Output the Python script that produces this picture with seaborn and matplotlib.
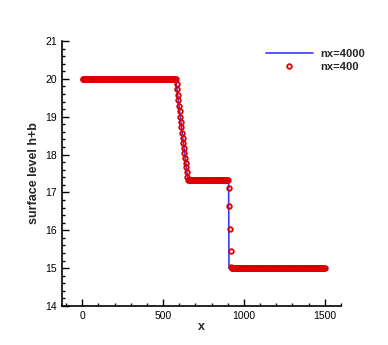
import numpy as np
import pandas as pd
import matplotlib
matplotlib.use("Agg")
import matplotlib.pyplot as plt
import seaborn as sns
from matplotlib.ticker import MultipleLocator

sns.set_style("ticks")
plt.rcParams['font.family'] = ['Liberation Sans', 'DejaVu Sans']

# reference solution nx=4000 (vertices of the profile)
x_fine = [0, 578, 590, 600, 610, 620, 630, 640, 654, 905, 907.5, 1500]
h_fine = [20.0, 20.0, 19.58, 19.22, 18.86, 18.50, 18.15, 17.80, 17.33, 17.33, 15.0, 15.0]

# coarse solution nx=400 (cell centres on [0, 1500])
nx = 400
x_coarse = (np.arange(nx) + 0.5) * 1500.0 / nx
h_rare = [19.87, 19.72, 19.57, 19.43, 19.28, 19.14, 19.00, 18.86, 18.72, 18.58,
          18.45, 18.31, 18.18, 18.05, 17.92, 17.79, 17.66, 17.53, 17.41]
h_shock = [17.12, 16.65, 16.04, 15.46, 15.04]
h_coarse = [20.0] * 155 + h_rare + [17.33] * 67 + h_shock + [15.0] * 154

fine = pd.DataFrame({"x": x_fine, "h": h_fine})
coarse = pd.DataFrame({"x": x_coarse, "h": h_coarse})

fig = plt.figure(figsize=(3.88, 3.45), dpi=100)
ax = fig.add_axes([62/388, 1 - 306/345, (341 - 62)/388, (306 - 41)/345])

sns.lineplot(data=fine, x="x", y="h", ax=ax, color="#3a3aff", lw=1.2,
             label="nx=4000", sort=False)
ax.plot(coarse["x"], coarse["h"], ls="none", marker="o", ms=3.3,
        mfc="none", mec="#dd0000", mew=1.3, label="nx=400")

ax.set_xlim(-125, 1600)
ax.set_ylim(14, 21)
ax.xaxis.set_major_locator(MultipleLocator(500))
ax.xaxis.set_minor_locator(MultipleLocator(100))
ax.yaxis.set_major_locator(MultipleLocator(1))
ax.yaxis.set_minor_locator(MultipleLocator(0.2))
ax.tick_params(which="both", direction="in", labelsize=7.5, width=1, colors="black")
ax.tick_params(which="major", length=5)
ax.tick_params(which="minor", length=2.5)
for s in ["top", "right"]:
    ax.spines[s].set_visible(False)
for s in ["left", "bottom"]:
    ax.spines[s].set_linewidth(1.2)
    ax.spines[s].set_color("black")

ax.set_xlabel("x", fontsize=9, fontweight="bold", labelpad=0)
ax.set_ylabel("surface level h+b", fontsize=9, fontweight="bold", labelpad=4)

leg = ax.legend(loc="upper right", frameon=False,
                prop={"weight": "bold", "size": 8}, handlelength=4.2,
                handletextpad=0.7, borderaxespad=0.3,
                bbox_to_anchor=(1.115, 1.0), labelspacing=0.3)

fig.savefig("out.png", dpi=100)
